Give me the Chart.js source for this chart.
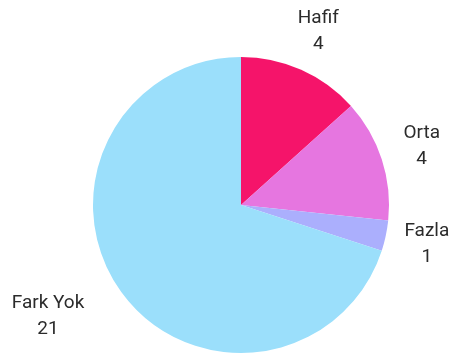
<!DOCTYPE html>
<html>
<head>
<meta charset="utf-8">
<script src="https://cdn.jsdelivr.net/npm/chart.js@4"></script>
<style>
  html, body { margin: 0; padding: 0; background: #fff; }
  #wrap { width: 449px; height: 356px; position: relative; }
</style>
</head>
<body>
<div id="wrap"><canvas id="myChart"></canvas></div>
<script>
var labels = ['Hafif', 'Orta', 'Fazla', 'Fark Yok'];
var values = [4, 4, 1, 21];
var colors = ['#f5146a', '#e676e0', '#abaffd', '#9bdffb'];

// slice name + count drawn outside each slice
var outsideLabels = {
  id: 'outsideLabels',
  afterDatasetsDraw: function(chart) {
    var ctx = chart.ctx;
    var meta = chart.getDatasetMeta(0);
    ctx.save();
    ctx.font = '19px Roboto';
    ctx.fillStyle = '#2b2b2b';
    ctx.textBaseline = 'middle';
    ctx.textAlign = 'center';
    meta.data.forEach(function(arc, i) {
      var mid = (arc.startAngle + arc.endAngle) / 2;
      var r = arc.outerRadius + 42;
      var x = arc.x + Math.cos(mid) * r;
      var y = arc.y + Math.sin(mid) * r;
      var w = Math.max(ctx.measureText(labels[i]).width, ctx.measureText(String(values[i])).width);
      // left-side labels end just before the anchor point
      if (x < arc.x - arc.outerRadius * 0.5) x = x - w / 2 - 3;
      ctx.fillText(labels[i], x, y - 13);
      ctx.fillText(String(values[i]), x, y + 13);
    });
    ctx.restore();
  }
};

var ctx = document.getElementById('myChart').getContext('2d');
new Chart(ctx, {
  type: 'pie',
  data: {
    labels: labels,
    datasets: [{
      data: values,
      backgroundColor: colors,
      borderWidth: 0
    }]
  },
  options: {
    responsive: true,
    maintainAspectRatio: false,
    animation: false,
    layout: { padding: { top: 57, bottom: 3, left: 84, right: 51 } },
    plugins: {
      legend: { display: false },
      tooltip: { enabled: false }
    }
  },
  plugins: [outsideLabels]
});
</script>
</body>
</html>
